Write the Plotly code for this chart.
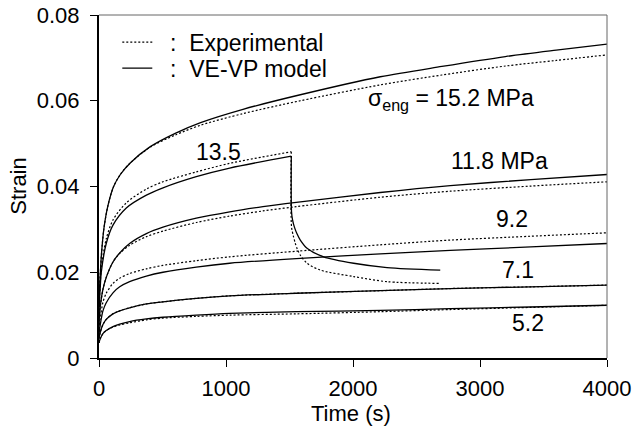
import plotly.graph_objects as go

# ---- data (time in s, strain) ----
t152 = [0, 3, 10, 20, 40, 70, 115, 168, 246, 404, 600, 800, 1134, 1585, 2215, 2700, 3200, 3600, 4000]
m152 = [0.012, 0.0155, 0.0195, 0.0245, 0.0305, 0.0355, 0.0400, 0.0428, 0.0455, 0.0493, 0.0524, 0.0549, 0.0580, 0.0614, 0.0656, 0.0680, 0.0703, 0.0718, 0.0732]
e152 = [0.012, 0.0155, 0.0195, 0.0245, 0.0305, 0.0355, 0.0400, 0.0428, 0.0455, 0.0492, 0.0520, 0.0543, 0.0570, 0.0600, 0.0637, 0.0660, 0.0681, 0.0694, 0.0707]

t135m = [0, 3, 10, 18, 57, 110, 215, 373, 504, 766, 1029, 1514]
m135 = [0.010, 0.013, 0.0166, 0.0200, 0.0267, 0.0310, 0.0350, 0.0380, 0.0397, 0.0423, 0.0443, 0.0471]
r135_t = [1514, 1516, 1524, 1540, 1560, 1585, 1638, 1769, 2005, 2268, 2687]
r135_m = [0.0471, 0.0341, 0.0322, 0.0304, 0.0289, 0.0275, 0.0256, 0.0236, 0.0221, 0.0211, 0.0205]

t135e = [0, 3, 10, 18, 57, 110, 215, 373, 504, 766, 1029, 1514]
e135 = [0.010, 0.0135, 0.0175, 0.0210, 0.0278, 0.0322, 0.0362, 0.0394, 0.0411, 0.0434, 0.0454, 0.0481]
r135_te = [1514, 1516, 1530, 1545, 1560, 1585, 1638, 1743, 2005, 2268, 2687]
r135_e = [0.0481, 0.0306, 0.0285, 0.0268, 0.0255, 0.0240, 0.0221, 0.0205, 0.0190, 0.0178, 0.0174]

t118 = [0, 3, 10, 31, 57, 110, 163, 241, 373, 504, 766, 1029, 1291, 1553, 2215, 2766, 3400, 4000]
m118 = [0.0075, 0.0095, 0.0120, 0.0160, 0.0188, 0.0224, 0.0245, 0.0267, 0.0290, 0.0305, 0.0326, 0.0341, 0.0353, 0.0363, 0.0386, 0.0402, 0.0416, 0.0428]
e118 = [0.0075, 0.0095, 0.0120, 0.0160, 0.0188, 0.0224, 0.0244, 0.0263, 0.0283, 0.0296, 0.0316, 0.0331, 0.0343, 0.0353, 0.0375, 0.0389, 0.0401, 0.0411]

t92 = [0, 3, 10, 31, 57, 110, 163, 241, 373, 504, 766, 1029, 1553, 2215, 2766, 3400, 4000]
m92 = [0.0055, 0.0064, 0.0078, 0.0110, 0.0129, 0.0152, 0.0166, 0.0178, 0.0191, 0.0200, 0.0212, 0.0221, 0.0232, 0.0243, 0.0251, 0.0259, 0.0267]
e92 = [0.006, 0.0072, 0.0092, 0.0130, 0.0151, 0.0174, 0.0186, 0.0197, 0.0208, 0.0216, 0.0227, 0.0236, 0.0249, 0.0264, 0.0275, 0.0284, 0.0292]

t71 = [0, 3, 10, 31, 57, 110, 163, 241, 373, 504, 766, 1029, 1553, 2215, 2766, 3400, 4000]
m71 = [0.0045, 0.0051, 0.0060, 0.0078, 0.0090, 0.0103, 0.0110, 0.0117, 0.0126, 0.0131, 0.0139, 0.0145, 0.0151, 0.0157, 0.0162, 0.0166, 0.0170]
e71 = [0.0045, 0.0051, 0.0060, 0.0078, 0.0090, 0.0103, 0.0110, 0.0117, 0.0126, 0.0131, 0.0139, 0.0145, 0.0151, 0.0157, 0.0162, 0.0166, 0.0170]

t52 = [0, 3, 10, 31, 57, 110, 163, 241, 373, 504, 766, 1029, 1553, 2215, 2766, 3400, 4000]
m52 = [0.0035, 0.0039, 0.0045, 0.0057, 0.0064, 0.0073, 0.0079, 0.0085, 0.0091, 0.0095, 0.0100, 0.0104, 0.0108, 0.0111, 0.0115, 0.0119, 0.0123]
e52 = [0.0035, 0.0039, 0.0045, 0.0057, 0.0064, 0.0072, 0.0077, 0.0082, 0.0089, 0.0093, 0.0097, 0.0100, 0.0103, 0.0108, 0.0113, 0.0118, 0.0123]

labels = ["13.5", "σ<sub>eng</sub> = 15.2 MPa", "11.8 MPa", "9.2", "7.1", "5.2"]
label_t = [939, 2774, 3152, 3254, 3302, 3380]
label_s = [0.0480, 0.0602, 0.0459, 0.0324, 0.0205, 0.0082]

x_ticks = [0, 1000, 2000, 3000, 4000]
y_ticks = [0, 0.02, 0.04, 0.06, 0.08]
y_ticktext = ["0", "0.02", "0.04", "0.06", "0.08"]

FONT = "Liberation Sans, Arial, sans-serif"
fig = go.Figure()

exp_sets = [(t152, e152), (t135e, e135), (r135_te, r135_e), (t118, e118), (t92, e92), (t71, e71), (t52, e52)]
mod_sets = [(t152, m152), (t135m, m135), (r135_t, r135_m), (t118, m118), (t92, m92), (t71, m71), (t52, m52)]

for i, (tx, ty) in enumerate(exp_sets):
    fig.add_trace(go.Scatter(x=tx, y=ty, mode="lines",
                             line=dict(color="black", width=1.2, dash="2px,2px", shape="spline", smoothing=0.8),
                             name="\u00a0\u00a0:\u00a0\u00a0Experimental", legend="legend", showlegend=(i == 0)))
for i, (tx, ty) in enumerate(mod_sets):
    fig.add_trace(go.Scatter(x=tx, y=ty, mode="lines",
                             line=dict(color="black", width=1.3, shape="spline", smoothing=0.8),
                             name="\u00a0\u00a0:\u00a0\u00a0VE-VP model", legend="legend2", showlegend=(i == 0)))

for txt, lx, ly in zip(labels, label_t, label_s):
    fig.add_annotation(x=lx, y=ly, xref="x", yref="y", text=txt, showarrow=False,
                       font=dict(family=FONT, size=23, color="black"))

# axis titles
fig.add_annotation(x=-0.159, y=0.5, xref="paper", yref="paper", text="Strain", textangle=-90,
                   showarrow=False, xanchor="center", yanchor="middle", font=dict(family=FONT, size=22))
fig.add_annotation(x=0.496, y=-0.161, xref="paper", yref="paper", text="Time (s)",
                   showarrow=False, xanchor="center", yanchor="middle", font=dict(family=FONT, size=22))

fig.add_shape(type="line", xref="paper", yref="paper", x0=0, x1=1, y0=1, y1=1, line=dict(color="#666", width=1))
fig.add_shape(type="line", xref="paper", yref="paper", x0=1, x1=1, y0=0, y1=1, line=dict(color="#666", width=1))

leg_common = dict(xanchor="left", yanchor="middle", bgcolor="rgba(0,0,0,0)", font=dict(family=FONT, size=23))
fig.update_layout(
    width=634, height=427,
    margin=dict(l=99, r=27, t=15, b=69),
    paper_bgcolor="white", plot_bgcolor="white",
    font=dict(family=FONT, size=22, color="black"),
    showlegend=True,
    legend=dict(x=0.036, y=0.921, **leg_common),
    legend2=dict(x=0.036, y=0.845, **leg_common),
    xaxis=dict(range=[0, 4000], tickvals=x_ticks, ticks="outside", ticklen=7, tickwidth=1, tickcolor="black",
               showline=True, linecolor="black", linewidth=2, showgrid=False, zeroline=False,
               automargin=False, ticklabelstandoff=3),
    yaxis=dict(range=[0, 0.08], tickvals=y_ticks, ticktext=y_ticktext, ticks="outside", ticklen=7, tickwidth=1,
               tickcolor="black", showline=True, linecolor="black", linewidth=2, showgrid=False, zeroline=False,
               automargin=False, ticklabelstandoff=6),
)

fig.write_html("out.html")
